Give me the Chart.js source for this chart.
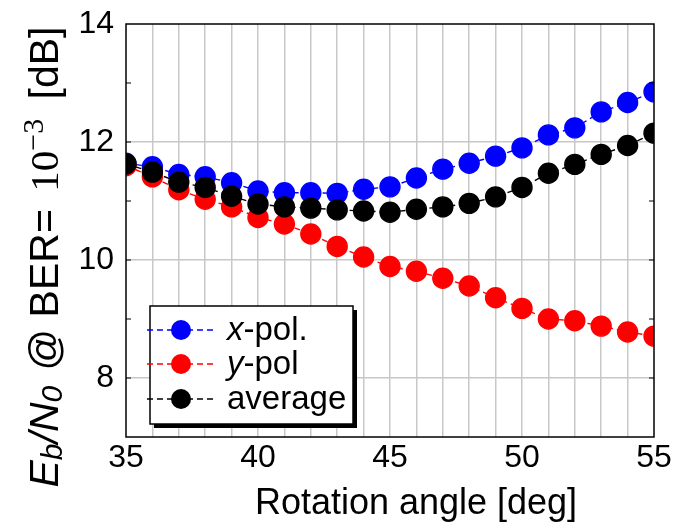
<!DOCTYPE html>
<html>
<head>
<meta charset="utf-8">
<script src="https://cdn.jsdelivr.net/npm/chart.js@4"></script>
<style>
html,body{margin:0;padding:0;background:#fff;}
#wrap{width:676px;height:525px;position:relative;}
</style>
</head>
<body>
<div id="wrap"><canvas id="c" width="676" height="525"></canvas></div>
<script>
// ---- data ----
const angles = [35,36,37,38,39,40,41,42,43,44,45,46,47,48,49,50,51,52,53,54,55];
const xPol = [11.64,11.58,11.45,11.41,11.31,11.17,11.14,11.14,11.13,11.20,11.24,11.39,11.54,11.64,11.76,11.90,12.12,12.24,12.51,12.67,12.85];
const yPol = [11.60,11.41,11.19,11.03,10.90,10.72,10.61,10.44,10.23,10.05,9.89,9.81,9.69,9.56,9.36,9.18,9.00,8.97,8.88,8.78,8.71];
const avgPol = [11.63,11.49,11.32,11.23,11.08,10.95,10.90,10.88,10.85,10.83,10.81,10.86,10.90,10.96,11.07,11.23,11.47,11.62,11.79,11.94,12.15];
const seriesNames = ['x-pol.','y-pol','average'];
const xTickLabels = [35,40,45,50,55];
const yTickLabels = [8,10,12,14];

const SANS = '"Liberation Sans", Arial, Helvetica, sans-serif';
const SERIF = '"Liberation Serif", "Times New Roman", serif';

function pts(ys){ return angles.map((a,i)=>({x:a,y:ys[i]})); }

function ds(label, ys, color, order){
  return {
    label, data: pts(ys), borderColor: color, backgroundColor: color,
    pointBackgroundColor: color, pointBorderColor: color,
    pointRadius: 10, pointHoverRadius: 10, borderWidth: 1.4,
    borderDash: [6,4], showLine: true, fill: false, tension: 0, order
  };
}

const framePlugin = {
  id: 'frame',
  afterDraw(chart){
    const {ctx, chartArea:a} = chart;
    ctx.save();
    ctx.strokeStyle = '#000'; ctx.lineWidth = 1.5;
    ctx.strokeRect(a.left, a.top, a.right-a.left, a.bottom-a.top);
    const ys = chart.scales.y;
    ctx.lineWidth = 1;
    for (let v = 8; v < 14; v++){
      const py = ys.getPixelForValue(v);
      ctx.beginPath(); ctx.moveTo(a.left, py); ctx.lineTo(a.left+5, py);
      ctx.moveTo(a.right, py); ctx.lineTo(a.right-5, py); ctx.stroke();
    }
    // legend
    const bx=150, by=306, bw=203, bh=118;
    ctx.fillStyle = '#000';
    ctx.fillRect(bx+4, by+4, bw, bh);
    ctx.fillStyle = '#fff';
    ctx.fillRect(bx, by, bw, bh);
    ctx.strokeStyle = '#000'; ctx.lineWidth = 1.5;
    ctx.strokeRect(bx, by, bw, bh);
    const rows = [
      {y:330, color:'blue', parts:[['x','italic'],['-pol.','normal']]},
      {y:364, color:'red', parts:[['y','italic'],['-pol','normal']]},
      {y:399, color:'black', parts:[['average','normal']]}
    ];
    rows.forEach((r)=>{
      ctx.strokeStyle = r.color; ctx.lineWidth = 1.4; ctx.setLineDash([6,4]);
      ctx.beginPath(); ctx.moveTo(147, r.y); ctx.lineTo(217, r.y); ctx.stroke();
      ctx.setLineDash([]);
      ctx.fillStyle = r.color;
      ctx.beginPath(); ctx.arc(181, r.y, 10, 0, Math.PI*2); ctx.fill();
      ctx.fillStyle = '#000'; ctx.textBaseline = 'middle'; ctx.textAlign = 'left';
      let x = 227;
      r.parts.forEach(([t,st])=>{
        ctx.font = st + ' 33px ' + SANS;
        ctx.fillText(t, x, r.y+1);
        x += ctx.measureText(t).width;
      });
    });
    // x title
    ctx.fillStyle = '#000';
    ctx.font = '36px ' + SANS; ctx.textAlign = 'center'; ctx.textBaseline = 'alphabetic';
    ctx.fillText('Rotation angle [deg]', 416, 514);
    // y title (rich)
    const segs = [
      {t:'E', f:'italic 41px '+SANS, dy:0},
      {t:'b', f:'italic 30px '+SANS, dy:4},
      {t:'/N', f:'italic 41px '+SANS, dy:0},
      {t:'0', f:'italic 30px '+SANS, dy:4, gap:4},
      {t:' @ BER= ', f:'41px '+SANS, dy:0, gap:6},
      {t:'10', f:'41px '+SERIF, dy:0},
      {t:'\u22123', f:'30px '+SERIF, dy:-15, gap:8},
      {t:' [dB]', f:'41px '+SANS, dy:0}
    ];
    let total = 0;
    segs.forEach(s=>{ ctx.font = s.f; s.w = ctx.measureText(s.t).width + (s.gap||0); total += s.w; });
    ctx.translate(58, 257);
    ctx.rotate(-Math.PI/2);
    ctx.textAlign = 'left';
    let x = -total/2;
    segs.forEach(s=>{ ctx.font = s.f; ctx.fillText(s.t, x, s.dy); x += s.w; });
    ctx.restore();
  }
};

new Chart(document.getElementById('c'), {
  type: 'line',
  data: { datasets: [
    ds(seriesNames[0], xPol, '#0000ff', 2),
    ds(seriesNames[1], yPol, '#ff0000', 1),
    ds(seriesNames[2], avgPol, '#000000', 0)
  ]},
  options: {
    responsive: false, animation: false,
    layout: { padding: { top: 24, right: 22, left: 0, bottom: 0 } },
    plugins: { legend: { display: false }, tooltip: { enabled: false } },
    scales: {
      x: {
        type: 'linear', min: 35, max: 55,
        afterFit(s){ s.height = 88; s.paddingLeft = 0; s.paddingRight = 0; },
        border: { display: false },
        grid: { color: c => (c.tick && (c.tick.value===35 || c.tick.value===55)) ? 'rgba(0,0,0,0)' : '#c8c8c8', lineWidth: 1.5, drawTicks: false },
        ticks: { stepSize: 1, autoSkip: false, maxRotation: 0, padding: 2, color: '#000',
          font: { family: SANS, size: 32 },
          callback: v => xTickLabels.includes(v) ? String(v) : '' }
      },
      y: {
        type: 'linear', min: 7, max: 14,
        afterFit(s){ s.width = 126; s.paddingTop = 0; s.paddingBottom = 0; },
        border: { display: false },
        grid: { color: c => (c.tick && c.tick.value % 2 === 0 && c.tick.value !== 14) ? '#c8c8c8' : 'rgba(0,0,0,0)', lineWidth: 1.5, drawTicks: false },
        ticks: { stepSize: 1, autoSkip: false, padding: 12, color: '#000',
          font: { family: SANS, size: 32 },
          callback: v => yTickLabels.includes(v) ? String(v) : '' }
      }
    }
  },
  plugins: [framePlugin]
});
</script>
</body>
</html>
